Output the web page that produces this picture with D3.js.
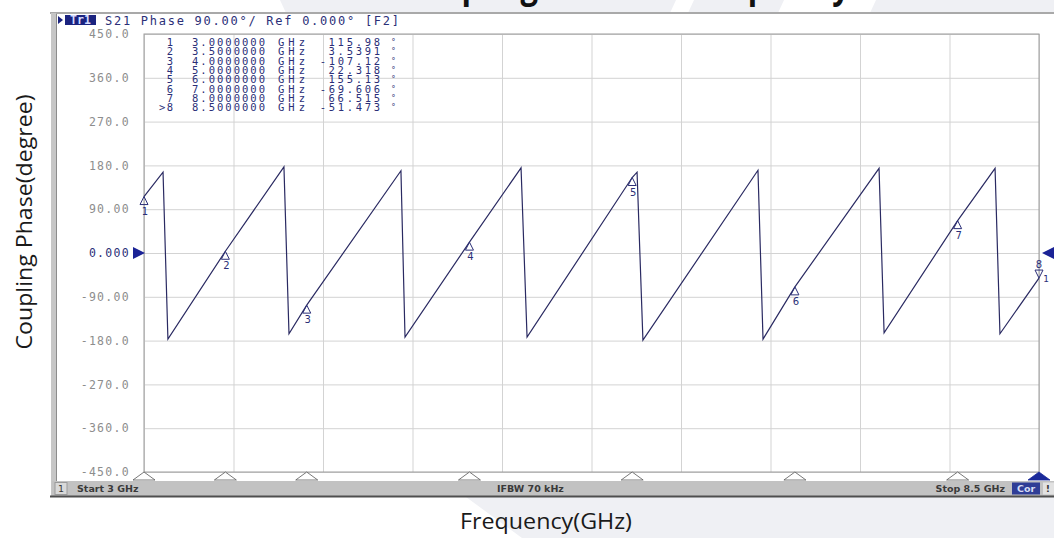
<!DOCTYPE html>
<html>
<head>
<meta charset="utf-8">
<script src="https://cdn.jsdelivr.net/npm/d3@7"></script>
<style>
  body { margin: 0; background: #fff; }
  svg { display: block; }
</style>
</head>
<body>
<script>
// trace vertices (GHz, degrees)
var traceFreq  = [3.000, 3.117, 3.147, 3.500, 3.860, 3.891, 4.000, 4.579, 4.604, 5.000, 5.317, 5.354,
                  6.000, 6.030, 6.066, 6.773, 6.804, 7.000, 7.517, 7.548, 8.000, 8.230, 8.260, 8.500];
var tracePhase = [115.98, 166, -177, 3.54, 177, -166, -107.12, 169, -173, 22.32, 175, -173,
                  155.13, 166, -179, 170, -177, -69.61, 174, -164, 66.52, 174, -166, -51.47];

// marker table
var markerNo    = ['1', '2', '3', '4', '5', '6', '7', '>8'];
var markerFreq  = [3.0, 3.5, 4.0, 5.0, 6.0, 7.0, 8.0, 8.5];
var markerPhase = [115.98, 3.5391, -107.12, 22.318, 155.13, -69.606, 66.515, -51.473];
var markerFreqText  = ['3.0000000', '3.5000000', '4.0000000', '5.0000000', '6.0000000', '7.0000000', '8.0000000', '8.5000000'];
var markerPhaseText = ['115.98', '3.5391', '-107.12', '22.318', '155.13', '-69.606', '66.515', '-51.473'];

// axis divisions
var yTicks      = [450, 360, 270, 180, 90, 0, -90, -180, -270, -360, -450];
var yTickLabels = ['450.0', '360.0', '270.0', '180.0', '90.00', '0.000', '-90.00', '-180.0', '-270.0', '-360.0', '-450.0'];
var xGrid       = [3.00, 3.55, 4.10, 4.65, 5.20, 5.75, 6.30, 6.85, 7.40, 7.95, 8.50];

var W = 1054, H = 538;
var mono = 'DejaVu Sans Mono, Liberation Mono, monospace';
var navy = '#2b2f78';

var svg = d3.select('body').append('svg').attr('width', W).attr('height', H);

var x = d3.scaleLinear().domain([3, 8.5]).range([144, 1039]);
var y = d3.scaleLinear().domain([-450, 450]).range([472, 34]);

// slide background shapes
var bg = '#eff0f4';
[[[280, 0], [676, 0], [670, 13], [286, 13]],
 [[694, 0], [784, 0], [778, 13], [688, 13]],
 [[876, 0], [1054, 0], [1054, 13], [870, 13]],
 [[466, 497], [1054, 497], [1054, 538], [522, 538]]].forEach(function (p) {
  svg.append('polygon').attr('points', p.join(' ')).attr('fill', bg);
});

// title (mostly hidden behind the screenshot, only the lower edge shows)
svg.append('text')
  .attr('x', 402).attr('y', -2)
  .attr('textLength', 448).attr('lengthAdjust', 'spacingAndGlyphs')
  .attr('font-family', 'Open Sans, sans-serif').attr('font-weight', 'bold').attr('font-size', 38)
  .attr('fill', '#111')
  .text('Coupling Phase vs Frequency');

// instrument window
svg.append('rect').attr('x', 50).attr('y', 13).attr('width', W - 50).attr('height', 484).attr('fill', '#fff');
svg.append('rect').attr('x', 50).attr('y', 12).attr('width', W - 50).attr('height', 2).attr('fill', '#a9a9a9');
svg.append('rect').attr('x', 51).attr('y', 13).attr('width', 5).attr('height', 484).attr('fill', '#c6c6c6');
svg.append('line').attr('x1', 56.5).attr('x2', 56.5).attr('y1', 14).attr('y2', 497).attr('stroke', '#8c8c8c');

// header
svg.append('polygon').attr('points', '58,16 63,20 58,24').attr('fill', '#1b237f');
svg.append('rect').attr('x', 65).attr('y', 15).attr('width', 31).attr('height', 10).attr('fill', '#1b237f');
svg.append('text').attr('x', 80.5).attr('y', 24).attr('text-anchor', 'middle')
  .attr('font-family', mono).attr('font-size', 11.5).attr('font-weight', 'bold').attr('fill', '#d6dcff')
  .text('Tr1');
svg.append('text').attr('x', 105).attr('y', 24.5)
  .attr('textLength', 294).attr('lengthAdjust', 'spacing')
  .attr('font-family', mono).attr('font-size', 12).attr('fill', navy)
  .text('S21 Phase 90.00°/ Ref 0.000° [F2]');

// grid
var gx = svg.append('g')
  .attr('transform', 'translate(0,' + y(-450) + ')')
  .call(d3.axisBottom(x).tickValues(xGrid).tickSize(-(y(-450) - y(450))).tickFormat(''));
gx.select('.domain').remove();
gx.selectAll('line').attr('stroke', '#d3d3d3');

var gy = svg.append('g')
  .attr('transform', 'translate(' + x(3) + ',0)')
  .call(d3.axisLeft(y).tickValues(yTicks).tickSize(-(x(8.5) - x(3))).tickPadding(14)
    .tickFormat(function (d, i) { return yTickLabels[i]; }));
gy.select('.domain').remove();
gy.selectAll('line').attr('stroke', '#d3d3d3');
gy.selectAll('text')
  .attr('font-family', mono).attr('font-size', 11.5).attr('letter-spacing', 1.3)
  .attr('fill', function (d) { return d === 0 ? navy : '#8d8d8d'; });

svg.append('rect')
  .attr('x', x(3)).attr('y', y(450)).attr('width', x(8.5) - x(3)).attr('height', y(-450) - y(450))
  .attr('fill', 'none').attr('stroke', '#9c9c9c');

// marker table: one text block per column, one line per marker
var table = svg.append('g').attr('font-family', mono).attr('font-size', 10.5).attr('fill', navy);
function column(cx, anchor, rows, widthOf, size) {
  var t = table.append('text').attr('text-anchor', anchor);
  if (size) t.attr('font-size', size);
  rows.forEach(function (r, i) {
    var s = t.append('tspan').attr('x', cx).attr('y', 46 + i * 9.3 - (size ? 1 : 0)).text(r);
    if (widthOf) s.attr('textLength', widthOf(r)).attr('lengthAdjust', 'spacing');
  });
}
column(173, 'end', markerNo, function (r) { return r.length * 8 - 2; });
column(192, 'start', markerFreqText, function () { return 73; });
column(278, 'start', markerNo.map(function () { return 'GHz'; }), function () { return 27; });
column(380, 'end', markerPhaseText, function (r) { return r.length * 8.9 - 2; });
column(391, 'start', markerNo.map(function () { return '°'; }), null, 8);

// trace
var line = d3.line().x(function (d) { return x(d[0]); }).y(function (d) { return y(d[1]); });
svg.append('path')
  .datum(d3.zip(traceFreq, tracePhase))
  .attr('d', line)
  .attr('fill', 'none').attr('stroke', '#2a2a62').attr('stroke-width', 1.2);

// markers on the trace
var mk = svg.append('g').attr('font-family', 'DejaVu Sans, sans-serif').attr('font-size', 10).attr('fill', navy);
markerFreq.forEach(function (f, i) {
  var px = x(f), py = y(markerPhase[i]);
  if (i < 7) {
    mk.append('path').attr('d', 'M' + px + ',' + py + 'L' + (px - 4) + ',' + (py + 8) + 'L' + (px + 4) + ',' + (py + 8) + 'Z')
      .attr('fill', 'none').attr('stroke', navy);
    mk.append('text').attr('x', px + 1).attr('y', py + 18).attr('text-anchor', 'middle').text(String(i + 1));
  } else {
    mk.append('path').attr('d', 'M' + px + ',' + py + 'L' + (px - 4) + ',' + (py - 8) + 'L' + (px + 4) + ',' + (py - 8) + 'Z')
      .attr('fill', 'none').attr('stroke', navy);
    mk.append('text').attr('x', px).attr('y', py - 10).attr('text-anchor', 'middle').text('8');
    mk.append('text').attr('x', px + 7).attr('y', py + 4).attr('text-anchor', 'middle').attr('font-size', 9).text('1');
  }
});

// marker positions along the bottom edge
markerFreq.forEach(function (f, i) {
  var px = x(f), by = y(-450);
  svg.append('path').attr('d', 'M' + px + ',' + by + 'L' + (px - 11) + ',' + (by + 8) + 'L' + (px + 11) + ',' + (by + 8) + 'Z')
    .attr('fill', i === 7 ? '#1b2a9a' : '#fff').attr('stroke', i === 7 ? '#1b2a9a' : '#555').attr('stroke-width', 0.8);
});

// reference level arrows
svg.append('polygon').attr('points', [[133, y(0) - 6], [145, y(0)], [133, y(0) + 6]].join(' ')).attr('fill', '#1b2396');
svg.append('polygon').attr('points', [[1054, y(0) - 6], [1042, y(0)], [1054, y(0) + 6]].join(' ')).attr('fill', '#1b2396');

// status bar
svg.append('rect').attr('x', 52).attr('y', 481).attr('width', W - 52).attr('height', 15).attr('fill', '#c2c2c2');
svg.append('line').attr('x1', 50).attr('x2', W).attr('y1', 496.5).attr('y2', 496.5).attr('stroke', '#4e4e4e').attr('stroke-width', 2);
svg.append('rect').attr('x', 55).attr('y', 482.5).attr('width', 12).attr('height', 12).attr('fill', '#d9d9d9').attr('stroke', '#9a9a9a');
svg.append('rect').attr('x', 1012).attr('y', 482.5).attr('width', 28).attr('height', 12).attr('fill', '#2f3d96');
svg.append('rect').attr('x', 1043).attr('y', 482.5).attr('width', 11).attr('height', 12).attr('fill', '#e2e2e2');
var sb = svg.append('g').attr('font-family', 'DejaVu Sans, sans-serif').attr('font-size', 9.5).attr('font-weight', 'bold').attr('fill', '#3a3a3a');
sb.append('text').attr('x', 61).attr('y', 492).attr('text-anchor', 'middle').attr('font-weight', 'normal').text('1');
sb.append('text').attr('x', 77).attr('y', 492).text('Start 3 GHz');
sb.append('text').attr('x', 497).attr('y', 492).text('IFBW 70 kHz');
sb.append('text').attr('x', 1005).attr('y', 492).attr('text-anchor', 'end').text('Stop 8.5 GHz');
sb.append('text').attr('x', 1026).attr('y', 492).attr('text-anchor', 'middle').attr('fill', '#d8ddf5').text('Cor');
sb.append('text').attr('x', 1048).attr('y', 492).attr('text-anchor', 'middle').text('!');

// axis titles
svg.append('text')
  .attr('transform', 'translate(24,222) rotate(-90)')
  .attr('text-anchor', 'middle').attr('dominant-baseline', 'central')
  .attr('textLength', 255).attr('lengthAdjust', 'spacingAndGlyphs')
  .attr('font-family', 'Open Sans, sans-serif').attr('font-size', 21).attr('fill', '#1a1a1a')
  .text('Coupling Phase(degree)');
svg.append('text')
  .attr('x', 546).attr('y', 521)
  .attr('text-anchor', 'middle').attr('dominant-baseline', 'central')
  .attr('textLength', 172).attr('lengthAdjust', 'spacingAndGlyphs')
  .attr('font-family', 'Open Sans, sans-serif').attr('font-size', 21).attr('fill', '#1a1a1a')
  .text('Frequency(GHz)');
</script>
</body>
</html>
